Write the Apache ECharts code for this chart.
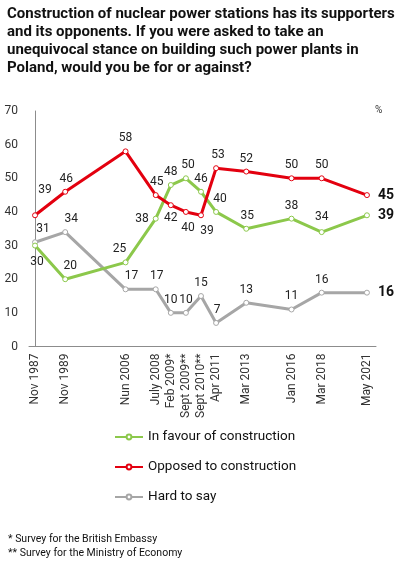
<!DOCTYPE html>
<html>
<head>
<meta charset="utf-8">
<script src="https://cdn.jsdelivr.net/npm/echarts@6/dist/echarts.min.js"></script>
<style>
  html, body { margin: 0; padding: 0; background: #fff; }
  #chart { width: 397px; height: 567px; }
</style>
</head>
<body>
<div id="chart"></div>
<script>
// survey dates and their slot on the (uneven) horizontal axis
const dates = ['Nov 1987', 'Nov 1989', 'Nun 2006', 'July 2008', 'Feb 2009*', 'Sept 2009**',
  'Sept 2010**', 'Apr 2011', 'Mar 2013', 'Jan 2016', 'Mar 2018', 'May 2021'];
const slots = [0, 2, 6, 8, 9, 10, 11, 12, 14, 17, 19, 22];

const inFavour = [30, 20, 25, 38, 48, 50, 46, 40, 35, 38, 34, 39];
const opposed = [39, 46, 58, 45, 42, 40, 39, 53, 52, 50, 50, 45];
const hardToSay = [31, 34, 17, 17, 10, 10, 15, 7, 13, 11, 16, 16];

const yTicks = [0, 10, 20, 30, 40, 50, 60, 70];

// label placement per point: [position, dx, dy]
const favourLabels = [['bottom', 2, 3], ['top', 5, 0], ['top', -6, 0], ['left', 0, 0], ['top', 0, 0], ['top', 2, 0],
  ['top', 0, 0], ['top', 4, 0], ['top', 1, 0], ['top', 0, 0], ['top', 0, -2], ['right', 0, 0]];
const opposedLabels = [['top', 10, -12], ['top', 1, 0], ['top', 0, 0], ['top', 1, 0], ['bottom', 0, 0], ['bottom', 2, 3],
  ['bottom', 6, 3], ['top', 2, 0], ['top', 0, 0], ['top', 0, 0], ['top', 0, 0], ['right', 0, 0]];
const hardLabels = [['top', 8, 0], ['top', 6, 0], ['top', 6, 0], ['top', 1, 0], ['top', 0, 0], ['top', 0, 0],
  ['top', 0, 0], ['top', 1, 0], ['top', 0, 0], ['top', 0, 0], ['top', 0, 0], ['right', 0, 0]];

function build(values, labels) {
  return values.map((v, i) => {
    const [pos, dx, dy] = labels[i];
    const last = i === values.length - 1;
    return {
      value: [slots[i], v],
      label: {
        show: true,
        position: pos,
        offset: [dx, dy],
        distance: last ? 8 : 4,
        fontSize: last ? 14 : 12,
        fontWeight: last ? 'bold' : 'normal',
        color: last ? '#111' : '#222'
      }
    };
  });
}

function lineSeries(name, color, values, labels) {
  return {
    name: name,
    type: 'line',
    data: build(values, labels),
    color: color,
    symbol: 'circle',
    symbolSize: 5,
    lineStyle: {color: color, width: 3},
    itemStyle: {color: '#fff', borderColor: color, borderWidth: 1},
    label: {fontFamily: 'Roboto'},
    emphasis: {disabled: true},
    animation: false
  };
}

const chart = echarts.init(document.getElementById('chart'));
chart.setOption({
  textStyle: {fontFamily: 'Roboto'},
  title: {
    text: 'Construction of nuclear power stations has its supporters\nand its opponents. If you were asked to take an\nunequivocal stance on building such power plants in\nPoland, would you be for or against?',
    left: 7,
    top: 5,
    padding: 0,
    textStyle: {fontFamily: 'Roboto', fontSize: 15, fontWeight: 'bold', lineHeight: 18, color: '#111'}
  },
  grid: {left: 29, right: 21, top: 111, bottom: 220.5, outerBoundsMode: 'none'},
  xAxis: {
    type: 'value',
    min: -0.4,
    max: 22.6,
    splitLine: {show: false},
    axisTick: {show: false},
    axisLine: {show: true, lineStyle: {color: '#8c8c8c', width: 1}},
    axisLabel: {
      customValues: slots,
      formatter: v => dates[slots.indexOf(v)] || '',
      rotate: 90,
      margin: 7,
      fontSize: 12,
      color: '#333'
    }
  },
  yAxis: {
    type: 'value',
    min: yTicks[0],
    max: yTicks[yTicks.length - 1],
    interval: 10,
    splitLine: {show: false},
    axisTick: {show: false},
    axisLine: {show: true, lineStyle: {color: '#8c8c8c', width: 1}},
    axisLabel: {fontSize: 12, color: '#333', margin: 11}
  },
  legend: {
    orient: 'vertical',
    left: 109,
    top: 425,
    itemWidth: 28,
    itemHeight: 6,
    itemGap: 16,
    textStyle: {fontFamily: 'Roboto', fontSize: 13.5, color: '#111'},
    data: ['In favour of construction', 'Opposed to construction', 'Hard to say']
  },
  graphic: [
    {type: 'text', left: 375, top: 105, style: {text: '%', fontFamily: 'Roboto', fontSize: 10, fill: '#333'}},
    {type: 'text', left: 8, top: 534, style: {text: '* Survey for the British Embassy', fontFamily: 'Roboto', fontSize: 10.5, fill: '#111'}},
    {type: 'text', left: 8, top: 548, style: {text: '** Survey for the Ministry of Economy', fontFamily: 'Roboto', fontSize: 10.5, fill: '#111'}}
  ],
  series: [
    lineSeries('Hard to say', '#a6a6a6', hardToSay, hardLabels),
    lineSeries('In favour of construction', '#8cc84b', inFavour, favourLabels),
    lineSeries('Opposed to construction', '#e3000f', opposed, opposedLabels)
  ]
});
</script>
</body>
</html>
